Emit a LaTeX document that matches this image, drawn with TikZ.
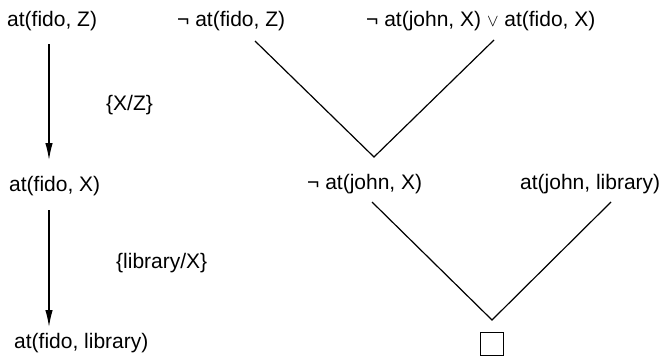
\documentclass[tikz,border=0pt]{standalone}
\usepackage{fontspec}
\setmainfont{Liberation Sans}
\usetikzlibrary{arrows.meta}
\begin{document}
\begin{tikzpicture}[x=1pt,y=-1pt,
  lbl/.style={anchor=base west,inner sep=0pt,font=\fontsize{21}{25}\selectfont},
  arr/.style={line width=1.3pt,-{Latex[length=17pt,width=7.5pt]}},
  vline/.style={line width=1.2pt,line join=miter}]
\useasboundingbox (0,0) rectangle (663,356);
% left column
\node[lbl] (fz) at (7,27) {at(fido, Z)};
\node[lbl] (fx) at (9,191) {at(fido, X)};
\node[lbl] (fl) at (14,348) {at(fido, library)};
\node[lbl] (s1) at (106,110) {\{X/Z\}};
\node[lbl] (s2) at (116,268) {\{library/X\}};
\coordinate (a1s) at (49,44);
\coordinate (a1e) at (49,160);
\coordinate (a2s) at (49,210);
\coordinate (a2e) at (49,327);
\draw[arr] (a1s) -- (a1e);
\draw[arr] (a2s) -- (a2e);
% right tree
\node[lbl] (nfz) at (177,27) {¬ at(fido, Z)};
\node[lbl] (dis) at (366,27) {¬ at(john, X) {\fontsize{18}{18}\selectfont$\vee$} at(fido, X)};
\node[lbl] (njx) at (307,189) {¬ at(john, X)};
\node[lbl] (jl) at (520,189) {at(john, library)};
\node[draw,line width=1.2pt,minimum size=23pt,inner sep=0pt] (box) at (492,344) {};
\coordinate (v1a) at (255,41);
\coordinate (v1m) at (374,157);
\coordinate (v1b) at (494,40);
\coordinate (v2a) at (372,202);
\coordinate (v2m) at (492,320);
\coordinate (v2b) at (611,202);
\draw[vline] (v1a) -- (v1m) -- (v1b);
\draw[vline] (v2a) -- (v2m) -- (v2b);
\end{tikzpicture}
\end{document}
